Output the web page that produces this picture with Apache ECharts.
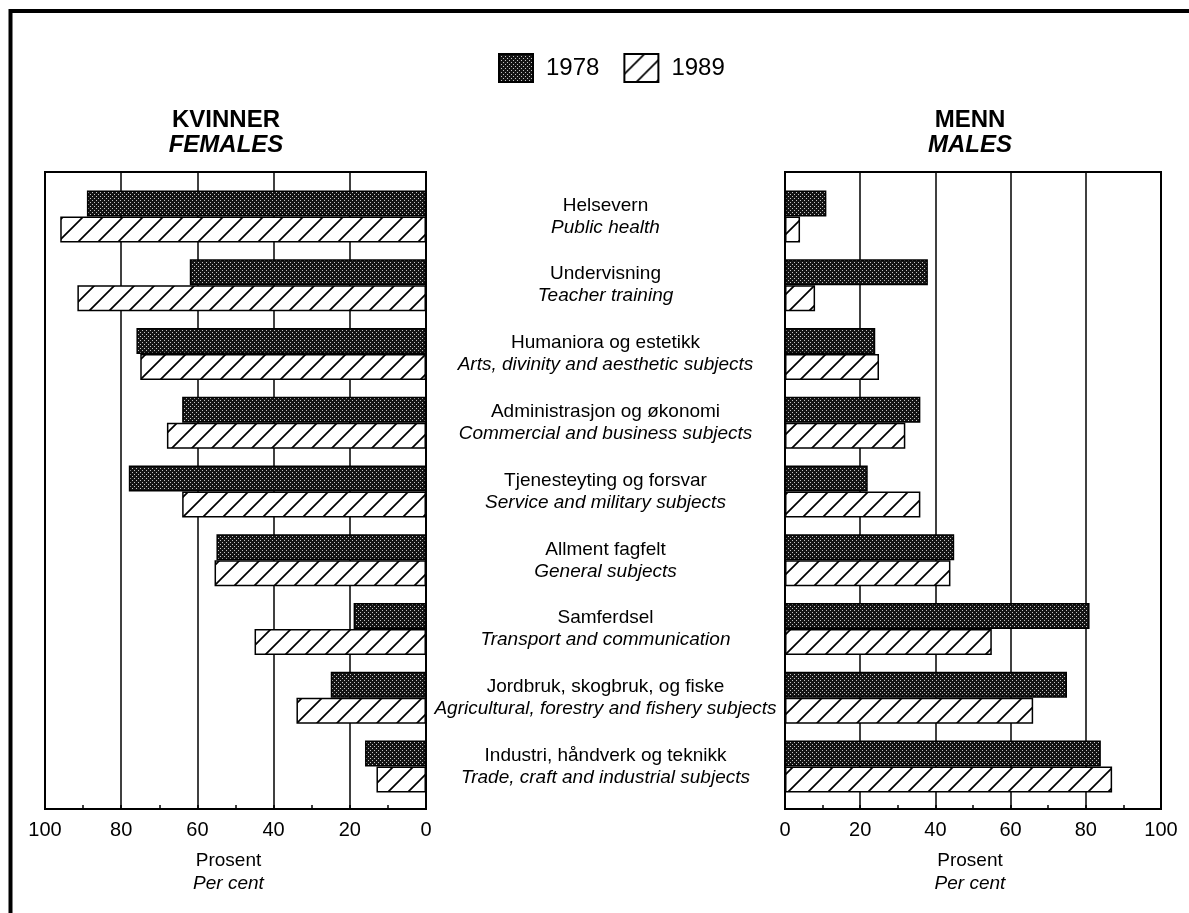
<!DOCTYPE html>
<html><head><meta charset="utf-8">
<script src="https://cdn.jsdelivr.net/npm/echarts@6/dist/echarts.min.js"></script>
<style>html,body{margin:0;padding:0;background:#fff}#c{width:1189px;height:913px}</style>
</head><body><div id="c"></div>
<script>
const categoriesNo = ['Helsevern','Undervisning','Humaniora og estetikk','Administrasjon og økonomi','Tjenesteyting og forsvar','Allment fagfelt','Samferdsel','Jordbruk, skogbruk, og fiske','Industri, håndverk og teknikk'];
const categoriesEn = ['Public health','Teacher training','Arts, divinity and aesthetic subjects','Commercial and business subjects','Service and military subjects','General subjects','Transport and communication','Agricultural, forestry and fishery subjects','Trade, craft and industrial subjects'];
const females1978 = [89, 62, 76, 64, 78, 55, 19, 25, 16];
const females1989 = [96, 91.5, 75, 68, 64, 55.5, 45, 34, 13];
const males1978 = [11, 38, 24, 36, 22, 45, 81, 75, 84];
const males1989 = [4, 8, 25, 32, 36, 44, 55, 66, 87];
const xTickLabels = ['0','20','40','60','80','100'];
const seriesNames = ['1978','1989'];

const FONT = "'Liberation Sans', Arial, Helvetica, sans-serif";
const categories = categoriesNo.map((n,i)=> n + '\n' + categoriesEn[i]);

function dotPattern(){
  const c=document.createElement('canvas'); c.width=4; c.height=4;
  const g=c.getContext('2d');
  g.fillStyle='#141414'; g.fillRect(0,0,4,4);
  g.fillStyle='#c4c4c4'; g.fillRect(0,0,1,1); g.fillRect(2,2,1,1);
  return c;
}
function hatchPattern(){
  const s=20; const c=document.createElement('canvas'); c.width=s; c.height=s;
  const g=c.getContext('2d');
  g.fillStyle='#fff'; g.fillRect(0,0,s,s);
  g.strokeStyle='#000'; g.lineWidth=1.7;
  g.beginPath();
  g.moveTo(0,s); g.lineTo(s,0);
  g.moveTo(-3,3); g.lineTo(3,-3);
  g.moveTo(s-3,s+3); g.lineTo(s+3,s-3);
  g.stroke();
  return c;
}
const fill1978 = {image: dotPattern(), repeat: 'repeat'};
const fill1989 = {image: hatchPattern(), repeat: 'repeat'};

const chart = echarts.init(document.getElementById('c'), null, {renderer:'canvas'});

function frameX(gridIndex, inverse, namePad){
  return {
    type:'value', gridIndex, min:0, max:100, interval:20, inverse,
    axisLine:{show:true, lineStyle:{color:'#000', width:2}},
    axisTick:{show:true, inside:true, length:4, lineStyle:{color:'#000', width:1.5}},
    minorTick:{show:true, splitNumber:2, length:4, lineStyle:{color:'#000', width:1.5}},
    splitLine:{show:true, lineStyle:{color:'#000', width:1.5}},
    axisLabel:{show:true, margin:11, color:'#000', fontSize:20, fontFamily:FONT,
      formatter:(v)=> xTickLabels[xTickLabels.indexOf(String(v))] || String(v)},
    name:'{a|Prosent}\n{b|Per cent}', nameLocation:'middle', nameGap:40,
    nameTextStyle:{padding:namePad, rich:{
      a:{fontSize:19, lineHeight:23, fontFamily:FONT, color:'#000'},
      b:{fontSize:19, lineHeight:23, fontFamily:FONT, fontStyle:'italic', color:'#000'}}}
  };
}
function dataX(gridIndex, inverse){
  return {type:'value', gridIndex, min:0, max:100, inverse, show:false, splitLine:{show:false}};
}
const barCommon = {type:'bar', barWidth:26, barGap:'0%', animation:false};

const option = {
  animation:false,
  backgroundColor:'#fff',
  textStyle:{fontFamily:FONT},
  title:[
    {text:'{a|KVINNER}\n{b|FEMALES}', left:226, top:108, textAlign:'center', padding:0,
     textStyle:{rich:{a:{fontSize:24, fontWeight:'bold', lineHeight:25, fontFamily:FONT, color:'#000'},
                      b:{fontSize:24, fontStyle:'italic', lineHeight:25, fontFamily:FONT, color:'#000'}}}},
    {text:'{a|MENN}\n{b|MALES}', left:970, top:108, textAlign:'center', padding:0,
     textStyle:{rich:{a:{fontSize:24, fontWeight:'bold', lineHeight:25, fontFamily:FONT, color:'#000'},
                      b:{fontSize:24, fontStyle:'italic', lineHeight:25, fontFamily:FONT, color:'#000'}}}}
  ],
  legend:{data:seriesNames, left:498, top:53, padding:0, itemWidth:34, itemHeight:28, itemGap:24,
    icon:'rect', selectedMode:false,
    textStyle:{fontSize:24, fontFamily:FONT, color:'#000', padding:[0,0,0,8]}},
  grid:[
    {left:45, top:172, width:381, height:637, show:true, borderColor:'#000', borderWidth:2, backgroundColor:'transparent'},
    {left:45, top:182, width:381, height:619},
    {left:785, top:172, width:376, height:637, show:true, borderColor:'#000', borderWidth:2, backgroundColor:'transparent'},
    {left:785, top:182, width:376, height:619}
  ],
  xAxis:[
    frameX(0, true, [0,14,0,0]),
    dataX(1, true),
    frameX(2, false, [0,6,0,0]),
    dataX(3, false)
  ],
  yAxis:[
    {type:'category', gridIndex:0, data:categories, show:false},
    {type:'category', gridIndex:1, data:categories, inverse:true, position:'right',
      axisLine:{show:false}, axisTick:{show:false}, splitLine:{show:false},
      axisLabel:{show:true, margin:179.5, align:'center', interval:0,
        formatter:(v, i)=> '{n|' + categoriesNo[i] + '}\n{e|' + categoriesEn[i] + '}',
        rich:{n:{fontSize:19, lineHeight:22, fontFamily:FONT, color:'#000', align:'center'},
              e:{fontSize:19, lineHeight:22, fontFamily:FONT, fontStyle:'italic', color:'#000', align:'center'}}}},
    {type:'category', gridIndex:2, data:categories, show:false},
    {type:'category', gridIndex:3, data:categories, inverse:true, show:false}
  ],
  series:[
    Object.assign({}, barCommon, {name:seriesNames[0], xAxisIndex:1, yAxisIndex:1, data:females1978,
      itemStyle:{color:fill1978, borderColor:'#000', borderWidth:1.5}}),
    Object.assign({}, barCommon, {name:seriesNames[1], xAxisIndex:1, yAxisIndex:1, data:females1989,
      itemStyle:{color:fill1989, borderColor:'#000', borderWidth:1.5}}),
    Object.assign({}, barCommon, {name:seriesNames[0], xAxisIndex:3, yAxisIndex:3, data:males1978,
      itemStyle:{color:fill1978, borderColor:'#000', borderWidth:1.5}}),
    Object.assign({}, barCommon, {name:seriesNames[1], xAxisIndex:3, yAxisIndex:3, data:males1989,
      itemStyle:{color:fill1989, borderColor:'#000', borderWidth:1.5}})
  ],
  graphic:[
    {type:'polyline', silent:true, shape:{points:[[10.5,913],[10.5,11],[1189,11]]},
     style:{stroke:'#000', lineWidth:4, fill:null}}
  ]
};
chart.setOption(option);
</script></body></html>
